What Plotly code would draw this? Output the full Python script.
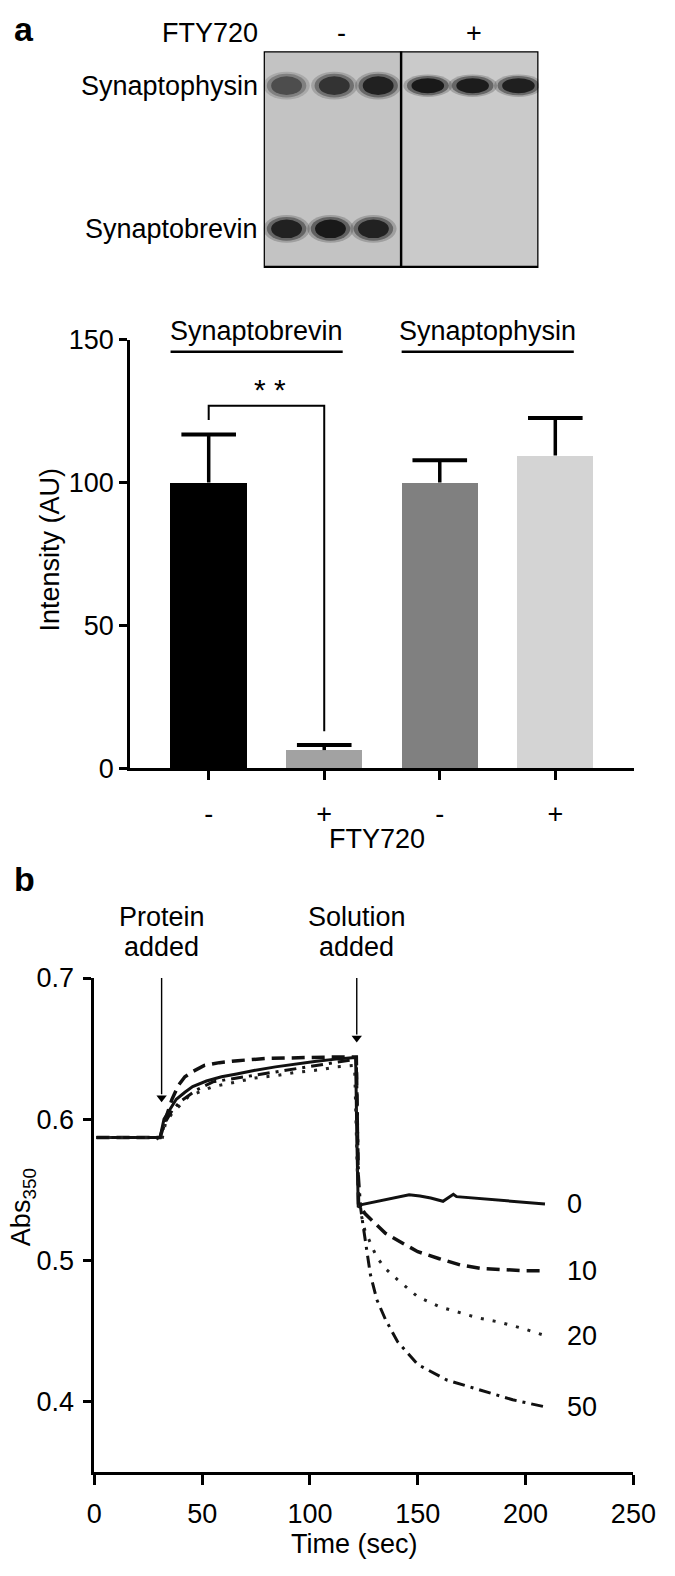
import plotly.graph_objects as go

FONT = "Liberation Sans, Arial, Helvetica, sans-serif"
W, H = 675, 1576
FS = 27

# ---------------------------------------------------------------------------
# Data
# ---------------------------------------------------------------------------

# western blot (panel a, top): lane centres (px inside the blot box) and darkness 0..1
blot_phys_x = [24, 74, 120, 172, 219, 267]
blot_phys_dark = [0.70, 0.80, 0.87, 0.90, 0.89, 0.88]
blot_phys_row = 35
blot_brev_x = [24, 70, 115]
blot_brev_dark = [0.87, 0.90, 0.87]
blot_brev_row = 181
blot_rows = ["Synaptophysin", "Synaptobrevin"]
blot_treat = ["-", "+"]

# bar chart (panel a, bottom)
bar_pos = [1, 2, 3, 4]
bar_ticks = ["-", "+", "-", "+"]
bar_vals = [100, 6.4, 100, 109.5]
bar_err = [16.8, 1.8, 7.8, 13.1]
bar_colors = ["#000000", "#a2a2a2", "#808080", "#d4d4d4"]
groups = ["Synaptobrevin", "Synaptophysin"]
group_bars = [(1, 2), (3, 4)]
bracket_x = [1, 1, 2, 2]
bracket_y = [121.9, 126.9, 126.9, 13]

# kinetics (panel b)
t_0 = [1, 10, 20, 30.5, 32.3, 35, 38, 42, 45.6, 52, 59, 66, 74, 84, 93, 103, 112, 118,
       121.2, 121.7, 122.4, 124, 131.4, 140, 146, 151, 156, 161.7, 166.5, 168, 175.3,
       182, 190, 200, 209]
abs_0 = [0.587, 0.587, 0.587, 0.587, 0.600, 0.607, 0.614, 0.619, 0.623, 0.627, 0.630,
         0.632, 0.6345, 0.637, 0.639, 0.641, 0.6425, 0.643, 0.6437, 0.590, 0.5375,
         0.5394, 0.5417, 0.544, 0.5463, 0.5455, 0.544, 0.5417, 0.5467, 0.545, 0.544,
         0.543, 0.5421, 0.541, 0.5398]

t_10 = [1, 10, 20, 30.5, 33, 36, 39, 42, 46, 51, 58, 66.5, 80, 93, 110, 121.5, 122.5,
        125.5, 130, 135, 143, 150, 160, 170, 180, 190, 200, 209]
abs_10 = [0.587, 0.587, 0.587, 0.587, 0.600, 0.614, 0.624, 0.630, 0.634, 0.638, 0.640,
          0.6414, 0.643, 0.6437, 0.644, 0.644, 0.540, 0.533, 0.526, 0.519, 0.512, 0.506,
          0.501, 0.4965, 0.494, 0.493, 0.4925, 0.4925]

t_20 = [1, 10, 20, 29, 31, 33, 36, 40, 43.7, 50, 55, 65, 74, 85, 93, 105, 112, 120.7,
        122, 123, 125.5, 131, 135, 140.7, 150, 160, 169, 178, 188, 200, 209]
abs_20 = [0.587, 0.587, 0.587, 0.587, 0.583, 0.597, 0.604, 0.610, 0.616, 0.620, 0.623,
          0.626, 0.629, 0.631, 0.633, 0.635, 0.637, 0.638, 0.560, 0.537, 0.521, 0.502,
          0.494, 0.486, 0.474, 0.467, 0.463, 0.459, 0.456, 0.451, 0.4465]

t_50 = [1, 10, 20, 30.5, 33, 36, 40, 47.5, 55, 74, 93, 112, 121.5, 122.5, 123.5, 124.5,
        128, 131, 135, 140.7, 150, 163.5, 179, 194, 209]
abs_50 = [0.587, 0.587, 0.587, 0.587, 0.598, 0.606, 0.6126, 0.6207, 0.6264, 0.631,
          0.6356, 0.640, 0.6425, 0.560, 0.537, 0.526, 0.490, 0.472, 0.458, 0.442, 0.426,
          0.415, 0.408, 0.401, 0.396]

curve_labels = ["0", "10", "20", "50"]
event_times = [31.2, 121.7]
event_labels = [("Protein", "added"), ("Solution", "added")]
event_tails = [0.7055, 0.7055]
event_heads = [0.6116, 0.654]


def px(x):
    return x / W


def py(y):
    return 1 - y / H


def gray(d):
    v = int(round(255 * (1 - d)))
    return f"rgb({v},{v},{v})"


fig = go.Figure()
shapes = []
annotations = []


def note(text, x, y, anchor="center", **kw):
    annotations.append(dict(text=text, x=px(x), y=py(y), xref="paper", yref="paper",
                            xanchor=anchor, yanchor="middle", showarrow=False, **kw))


# ---------------------------------------------------------------------------
# Blot
# ---------------------------------------------------------------------------
BLOT = dict(xref="x3", yref="y3")
shapes.append(dict(type="rect", x0=0, x1=142, y0=0, y1=220, fillcolor="#c3c3c3",
                   line_width=0, **BLOT))
shapes.append(dict(type="rect", x0=142, x1=288, y0=0, y1=220, fillcolor="#cacaca",
                   line_width=0, **BLOT))


def band(x, y, w, h, d):
    for scale, op in [(1.35, 0.22), (1.15, 0.45), (0.9, 1.0)]:
        shapes.append(dict(type="circle", x0=x - w * scale / 2, x1=x + w * scale / 2,
                           y0=y - h * scale / 2, y1=y + h * scale / 2,
                           fillcolor=gray(d), opacity=op, line_width=0, **BLOT))


for i, (x, d) in enumerate(zip(blot_phys_x, blot_phys_dark)):
    if i < 3:
        band(x, blot_phys_row, 36, 21, d)
    else:
        band(x, blot_phys_row, 38, 17, d)
for x, d in zip(blot_brev_x, blot_brev_dark):
    band(x, blot_brev_row, 36, 21, d)

shapes.append(dict(type="line", x0=144, x1=144, y0=0, y1=220,
                   line=dict(color="black", width=2.5), **BLOT))
shapes.append(dict(type="rect", x0=0, x1=288, y0=0, y1=220, fillcolor="rgba(0,0,0,0)",
                   line=dict(color="black", width=2.5), **BLOT))

fig.add_trace(go.Scatter(x=blot_phys_x + blot_brev_x,
                         y=[blot_phys_row] * len(blot_phys_x) + [blot_brev_row] * len(blot_brev_x),
                         mode="markers", marker=dict(opacity=0), hoverinfo="skip",
                         showlegend=False, xaxis="x3", yaxis="y3"))

note("<b>a</b>", 4, 14, anchor="left", font=dict(size=34))
note("FTY720", 264, 18, anchor="right")
for lab, xc in zip(blot_treat, [350, 488]):
    note(lab, xc, 18)
for lab, yc in zip(blot_rows, [blot_phys_row, blot_brev_row]):
    note(lab, 264, 37 + yc, anchor="right")

# ---------------------------------------------------------------------------
# Bar chart
# ---------------------------------------------------------------------------
fig.add_trace(go.Bar(
    x=bar_pos, y=bar_vals, width=0.66,
    marker=dict(color=bar_colors, line=dict(width=0)),
    showlegend=False, hoverinfo="skip", xaxis="x", yaxis="y"))

# one-sided (upper) error bars: stems + caps
stem_x, stem_y = [], []
for xb, v, e in zip(bar_pos, bar_vals, bar_err):
    stem_x += [xb, xb, None]
    stem_y += [v, v + e, None]
fig.add_trace(go.Scatter(x=stem_x, y=stem_y, mode="lines",
                         line=dict(color="black", width=3.5), hoverinfo="skip",
                         showlegend=False, xaxis="x", yaxis="y"))
fig.add_trace(go.Scatter(x=bar_pos, y=[v + e for v, e in zip(bar_vals, bar_err)],
                         mode="markers",
                         marker=dict(symbol="line-ew", size=39,
                                     line=dict(color="black", width=4)),
                         hoverinfo="skip", showlegend=False, xaxis="x", yaxis="y"))

fig.add_trace(go.Scatter(x=bracket_x, y=bracket_y, mode="lines",
                         line=dict(color="black", width=2), hoverinfo="skip",
                         showlegend=False, xaxis="x", yaxis="y"))
annotations.append(dict(text="* *", x=1.53, y=132.5, xref="x", yref="y", showarrow=False,
                        xanchor="center", yanchor="middle", font=dict(size=30)))

for name, (g0, g1) in zip(groups, group_bars):
    x0, x1 = g0 - 0.33, g1 + 0.16
    shapes.append(dict(type="line", xref="x", yref="y", x0=x0, x1=x1, y0=145.8, y1=145.8,
                       line=dict(color="black", width=2.5)))
    annotations.append(dict(text=name, x=(x0 + x1) / 2, y=py(322), xref="x",
                            yref="paper", showarrow=False, xanchor="center",
                            yanchor="middle"))

note("FTY720", 387, 840)
note("Intensity (AU)", 44, 545, textangle=-90)

# ---------------------------------------------------------------------------
# Kinetics
# ---------------------------------------------------------------------------
curves = [
    (t_0, abs_0, dict(color="#111", width=3)),
    (t_10, abs_10, dict(color="#111", width=3.5, dash="13px,7px")),
    (t_20, abs_20, dict(color="#222", width=3, dash="3px,9px")),
    (t_50, abs_50, dict(color="#111", width=3, dash="12px,6px,3px,6px")),
]
for t, a, ln in curves:
    fig.add_trace(go.Scatter(x=t, y=a, mode="lines", line=ln, hoverinfo="skip",
                             showlegend=False, xaxis="x2", yaxis="y2"))

for lab, a in zip(curve_labels, [abs_0, abs_10, abs_20, abs_50]):
    annotations.append(dict(text=lab, x=218.5, y=a[-1], xref="x2", yref="y2",
                            showarrow=False, xanchor="left", yanchor="middle"))

# event arrows: thin shaft + small filled head
for (l1, l2), te, tail, head in zip(event_labels, event_times, event_tails, event_heads):
    fig.add_trace(go.Scatter(x=[te, te], y=[tail, head + 0.006], mode="lines",
                             line=dict(color="black", width=1.4), hoverinfo="skip",
                             showlegend=False, xaxis="x2", yaxis="y2", cliponaxis=False))
    fig.add_trace(go.Scatter(x=[te], y=[head + 0.0035], mode="markers",
                             marker=dict(symbol="triangle-down", size=9, color="black",
                                         line=dict(width=0)),
                             hoverinfo="skip", showlegend=False, xaxis="x2", yaxis="y2",
                             cliponaxis=False))
    annotations.append(dict(text=l1, x=te, y=py(919), xref="x2", yref="paper",
                            showarrow=False, xanchor="center", yanchor="middle"))
    annotations.append(dict(text=l2, x=te, y=py(950), xref="x2", yref="paper",
                            showarrow=False, xanchor="center", yanchor="middle"))

note("<b>b</b>", 4, 881, anchor="left", font=dict(size=34))
note("Time (sec)", 363, 1559)
note("Abs<sub>350</sub>", 16, 1215, textangle=-90)

# ---------------------------------------------------------------------------
# Layout
# ---------------------------------------------------------------------------
axis_common = dict(showgrid=False, zeroline=False, showline=True, linecolor="black",
                   linewidth=3, ticks="outside", tickwidth=3, tickcolor="black",
                   tickfont=dict(size=FS, color="black"), ticklabeloverflow="allow")

fig.update_layout(
    width=W, height=H, autosize=False, margin=dict(l=0, r=0, t=0, b=0),
    paper_bgcolor="white", plot_bgcolor="white",
    font=dict(family=FONT, size=FS, color="black"),
    hovermode=False, bargap=0,
    xaxis=dict(domain=[px(128), px(656)], range=[0.32, 4.68], anchor="y",
               tickvals=bar_pos, ticktext=bar_ticks, ticklen=9, ticklabelstandoff=10,
               **axis_common),
    yaxis=dict(domain=[py(768), py(331)], range=[0, 150], anchor="x",
               tickvals=[0, 50, 100, 150], ticklen=8, **axis_common),
    xaxis2=dict(domain=[px(90.5), px(655.5)], range=[0, 250], anchor="y2",
                tickvals=[0, 50, 100, 150, 200, 250], ticklen=10, ticklabelstandoff=6,
                **axis_common),
    yaxis2=dict(domain=[py(1485), py(981.7)], range=[0.35, 0.7], anchor="x2",
                tickvals=[0.4, 0.5, 0.6, 0.7], tickformat=".1f", ticklen=8,
                ticklabelstandoff=4, **axis_common),
    xaxis3=dict(domain=[px(268), px(556)], range=[0, 288], anchor="y3", visible=False,
                fixedrange=True),
    yaxis3=dict(domain=[py(258), py(37)], range=[221, 0], anchor="x3", visible=False,
                fixedrange=True),
    shapes=shapes,
    annotations=annotations,
)

fig.write_html(
    "out.html",
    config={"displayModeBar": False},
    post_script="document.body.style.margin='0';document.body.style.overflow='hidden';",
)
